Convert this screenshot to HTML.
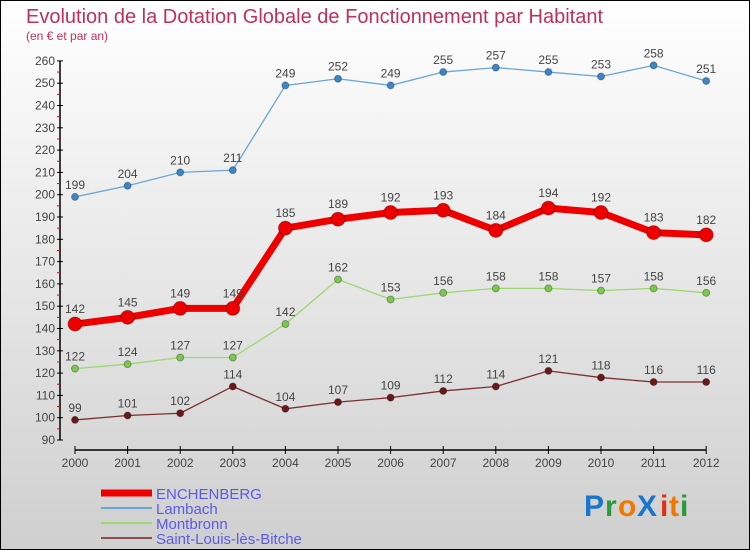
<!DOCTYPE html>
<html><head><meta charset="utf-8"><style>
body{margin:0}
#c{width:748px;height:548px;border:1px solid #000;background:linear-gradient(#fff,#cfcfcf);position:relative;font-family:"Liberation Sans",sans-serif;overflow:hidden}
</style></head><body>
<div id="c">
<svg id="s" width="748" height="548" xmlns="http://www.w3.org/2000/svg" style="position:absolute;left:0;top:0">
<text x="25" y="22" font-size="20" fill="#c0305a">Evolution de la Dotation Globale de Fonctionnement par Habitant</text>
<text x="25" y="39" font-size="12" fill="#c0305a">(en € et par an)</text>
<g id="g"></g>
<g font-size="30" font-weight="bold">
<text x="583" y="515" fill="#1a75cf">P</text><text x="604" y="515" fill="#2a9a3a">r</text><text x="617" y="515" fill="#f07800">o</text><text x="636" y="515" fill="#1a75cf">X</text><text x="659" y="515" fill="#e03010">i</text><text x="668" y="515" fill="#f07800">t</text><text x="679" y="515" fill="#2a9a3a">i</text>
</g>
</svg>
</div>
<script>
const years=[2000,2001,2002,2003,2004,2005,2006,2007,2008,2009,2010,2011,2012];
const enchenberg=[142,145,149,149,185,189,192,193,184,194,192,183,182];
const lambach=[199,204,210,211,249,252,249,255,257,255,253,258,251];
const montbronn=[122,124,127,127,142,162,153,156,158,158,157,158,156];
const saintLouis=[99,101,102,114,104,107,109,112,114,121,118,116,116];
const yTicks=[90,100,110,120,130,140,150,160,170,180,190,200,210,220,230,240,250,260];
const NS="http://www.w3.org/2000/svg";
const g=document.getElementById('g');
const X=i=>74+i*52.6;
const Y=v=>439-(v-90)*22.3/10;
function mk(t,a,p){const e=document.createElementNS(NS,t);for(const k in a)e.setAttribute(k,a[k]);(p||g).appendChild(e);return e;}
// y axis
let ya=mk('line',{x1:59,y1:Y(260),x2:59,y2:Y(90),stroke:'#000','stroke-width':1.5});


yTicks.forEach(v=>{
 mk('line',{x1:56,y1:Y(v),x2:62,y2:Y(v),stroke:'#000'});
 if(v<260)mk('line',{x1:56,y1:Y(v+5),x2:59,y2:Y(v+5),stroke:'#f00'});
 const t=mk('text',{x:54,y:Y(v)+4,'font-size':12,fill:'#444','text-anchor':'end'});t.textContent=v;
 
 
});
let xa=mk('line',{x1:74,y1:449,x2:X(12),y2:449,stroke:'#000','stroke-width':1.5});


years.forEach((y,i)=>{
 mk('line',{x1:X(i),y1:445,x2:X(i),y2:453,stroke:'#000'});
 const t=mk('text',{x:X(i),y:466,'font-size':12,fill:'#444','text-anchor':'middle'});t.textContent=y;
 
 
});
const series=[
 {n:'lambach',d:lambach,c:'#6aa6d8',dot:'#3c86c8',w:1.3,r:3.5},
 {n:'montbronn',d:montbronn,c:'#9ad870',dot:'#7cc84c',w:1.3,r:3.5},
 {n:'saint-louis',d:saintLouis,c:'#7a3030',dot:'#6a1818',w:1.3,r:3.5},
 {n:'enchenberg',d:enchenberg,c:'#ee0000',dot:'#ee0000',w:7,r:7}
];
series.forEach(s=>{
 const l=mk('polyline',{points:s.d.map((v,i)=>X(i)+','+Y(v)).join(' '),fill:'none',stroke:s.c,'stroke-width':s.w});
 
 
 s.d.forEach((v,i)=>{
  const p=mk('circle',{cx:X(i),cy:Y(v),r:s.r,fill:s.dot,stroke:'rgba(0,0,0,0.3)'});
  
  
  const t=mk('text',{x:X(i),y:Y(v)-(s.w>2?11:8),'font-size':12,fill:'#444','text-anchor':'middle'});t.textContent=v;
  
  
 });
});
const leg=[['ENCHENBERG','#ee0000',7,493],['Lambach','#6aa6d8',2,508],['Montbronn','#9ad870',2,523],['Saint-Louis-lès-Bitche','#8a5050',2,538]];
leg.forEach(e=>{
 const gg=mk('g',{});
 
 
 mk('line',{x1:100,y1:e[3]-1,x2:151,y2:e[3]-1,stroke:e[1],'stroke-width':e[2]},gg);
 const t=mk('text',{x:155,y:e[3]+5,'font-size':15,fill:'#5a5aee'},gg);t.textContent=e[0];
});
</script>
</body></html>
